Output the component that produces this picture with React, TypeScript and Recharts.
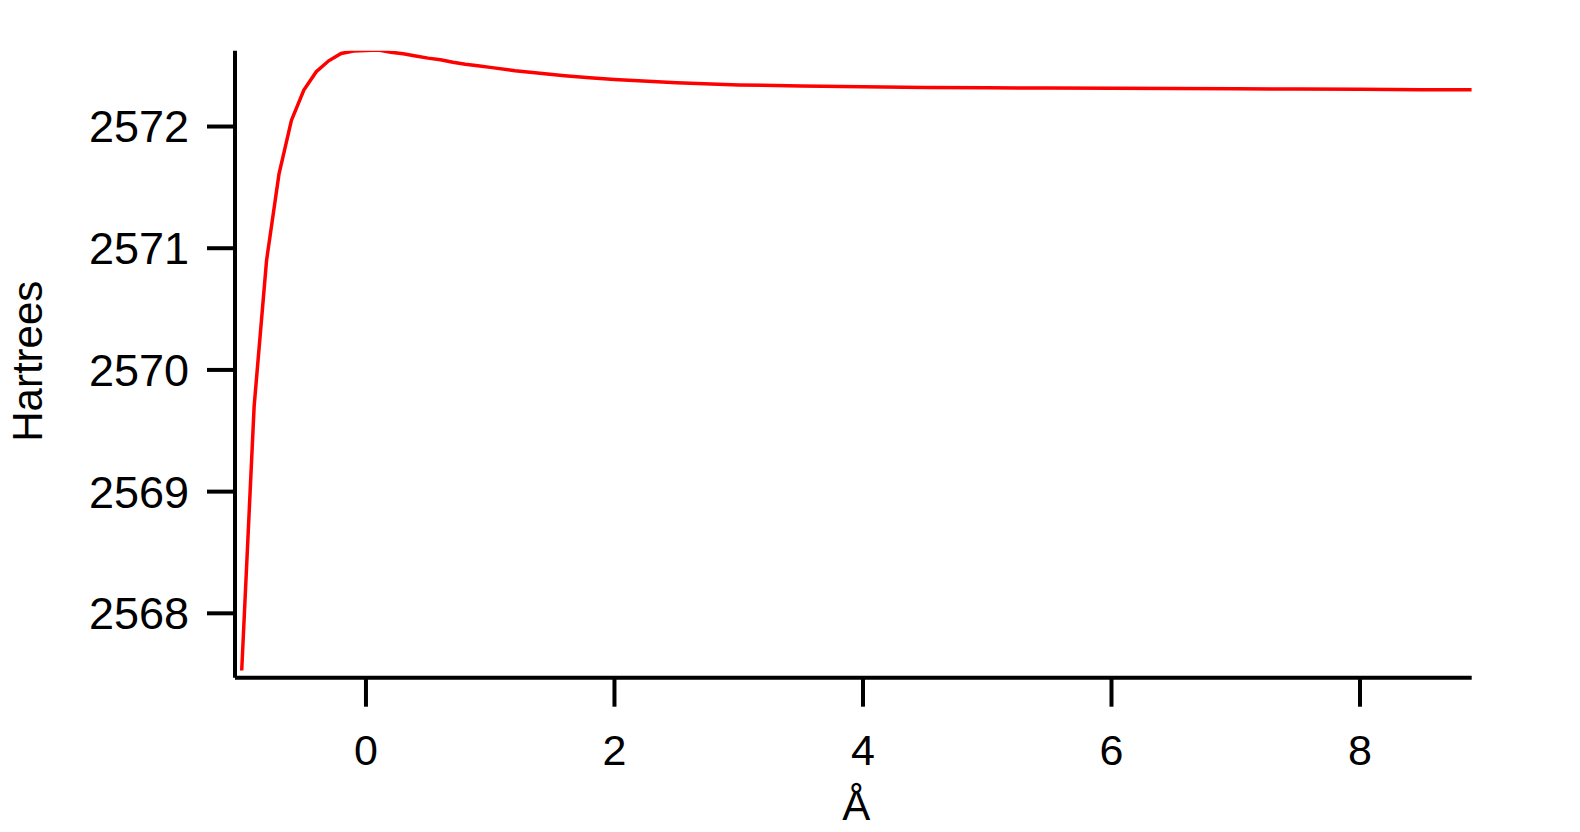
import React from "react";
import { LineChart, Line, XAxis, YAxis, Label } from "recharts";

// distance (Å) and energy (Hartrees)
const distance = [
  -1.0, -0.9, -0.8, -0.7, -0.6, -0.5, -0.4, -0.3, -0.2, -0.1,
  0.0, 0.1, 0.2, 0.3, 0.4, 0.5, 0.6, 0.7, 0.8, 0.9,
  1.0, 1.2, 1.4, 1.6, 1.8, 2.0, 2.5, 3.0, 3.5, 4.0,
  4.5, 5.0, 5.5, 6.0, 6.5, 7.0, 7.5, 8.0, 8.5, 8.9,
];
const energy = [
  2567.53, 2569.7, 2570.9, 2571.61, 2572.05, 2572.3, 2572.45, 2572.54, 2572.6, 2572.62,
  2572.625, 2572.628, 2572.61, 2572.598, 2572.58, 2572.562, 2572.548, 2572.528, 2572.512, 2572.499,
  2572.486, 2572.458, 2572.438, 2572.418, 2572.4, 2572.386, 2572.36, 2572.342, 2572.333, 2572.326,
  2572.321, 2572.318, 2572.316, 2572.314, 2572.312, 2572.31, 2572.308, 2572.306, 2572.303, 2572.302,
];
const xTicks = [0, 2, 4, 6, 8];
const yTicks = [2568, 2569, 2570, 2571, 2572];

const FONT = "'Liberation Sans', Arial, sans-serif";

const data = distance.map((d, i) => ({ x: d, y: energy[i] }));

const App: React.FC = () => {
  return (
    <div style={{ position: "absolute", left: 0, top: 0, background: "#fff" }}>
      <LineChart
        width={1580}
        height={832}
        data={data}
        margin={{ top: 50.7, right: 108.3, bottom: 0.3, left: 0 }}
      >
        <XAxis
          dataKey="x"
          type="number"
          domain={[-1.054, 8.899]}
          ticks={xTicks}
          allowDataOverflow
          height={154}
          stroke="#000"
          strokeWidth={4}
          tickSize={29}
          tickMargin={28}
          tick={{ fill: "#000", fontSize: 43, fontFamily: FONT }}
        >
          <Label
            content={({ viewBox }: any) => (
              <text
                x={viewBox.x + viewBox.width / 2 + 3}
                y={820}
                textAnchor="middle"
                fontSize={42}
                fontFamily={FONT}
                fill="#000"
              >
                Å
              </text>
            )}
          />
        </XAxis>
        <YAxis
          type="number"
          domain={[2567.471, 2572.623]}
          ticks={yTicks}
          allowDataOverflow
          width={235}
          stroke="#000"
          strokeWidth={4}
          tickSize={28}
          tickMargin={18}
          tick={{ fill: "#000", fontSize: 45, fontFamily: FONT }}
        >
          <Label
            content={({ viewBox }: any) => {
              const cy = viewBox.y + viewBox.height / 2 - 3;
              return (
                <text
                  x={42}
                  y={cy}
                  transform={`rotate(-90 42 ${cy})`}
                  textAnchor="middle"
                  fontSize={42}
                  fontFamily={FONT}
                  fill="#000"
                >
                  Hartrees
                </text>
              );
            }}
          />
        </YAxis>
        <Line
          type="linear"
          dataKey="y"
          stroke="#ff0000"
          strokeWidth={3.5}
          dot={false}
          isAnimationActive={false}
        />
      </LineChart>
    </div>
  );
};

export default App;
